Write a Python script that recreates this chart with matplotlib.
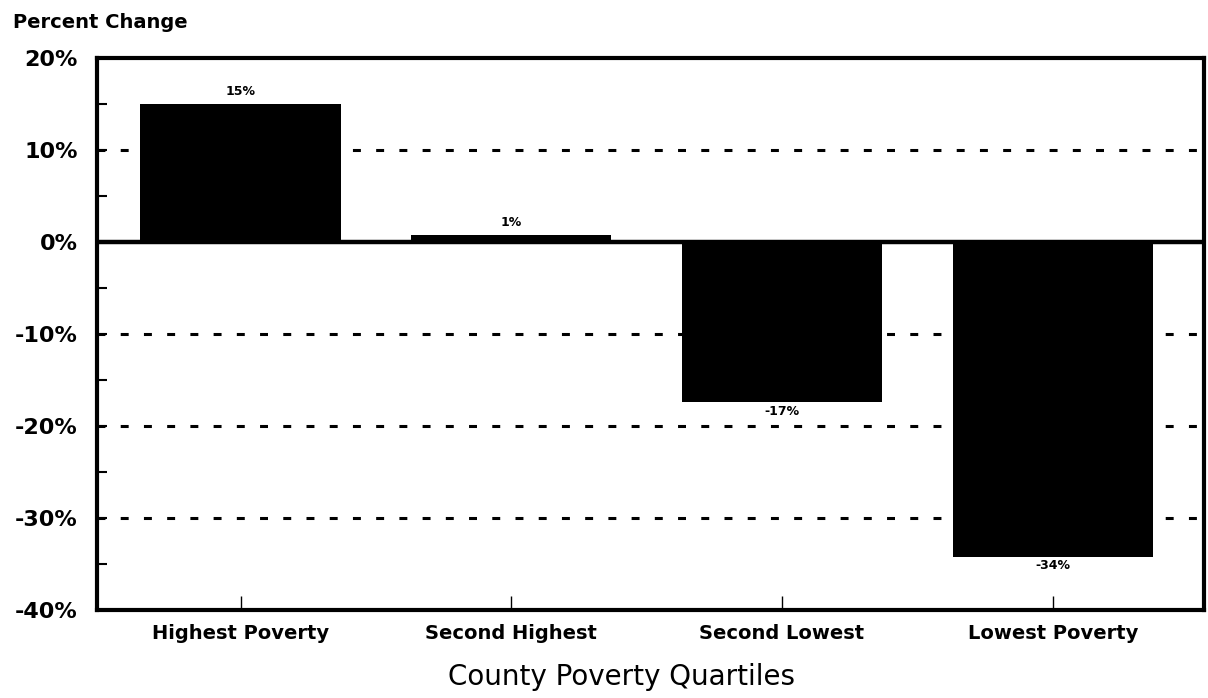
import matplotlib.pyplot as plt
from matplotlib.ticker import MultipleLocator, FuncFormatter

# county poverty quartiles and percent change
quartiles = ["Highest Poverty", "Second Highest", "Second Lowest", "Lowest Poverty"]
pct_change = [15, 0.8, -17.4, -34.2]
bar_labels = ["15%", "1%", "-17%", "-34%"]
grid_levels = [10, -10, -20, -30]

fig = plt.figure(figsize=(12.08, 6.98), dpi=100)
ax = fig.add_axes([0.0803, 0.126, 0.9167, 0.791])

x = range(len(quartiles))
ax.bar(x, pct_change, width=0.74, color="black", zorder=3)

# dashed reference lines behind the bars
for g in grid_levels:
    ax.axhline(g, color="black", lw=2.2, ls=(0, (2.6, 5)), zorder=1)
ax.axhline(0, color="black", lw=3.2, zorder=4)

# value labels above / below each bar
for i, v in enumerate(pct_change):
    if v >= 0:
        ax.text(i, v + 0.6, bar_labels[i], ha="center", va="bottom", fontsize=9, fontweight="bold")
    else:
        ax.text(i, v - 0.3, bar_labels[i], ha="center", va="top", fontsize=9, fontweight="bold")

ax.set_xlim(-0.53, 3.56)
ax.set_ylim(-40, 20)
ax.yaxis.set_major_locator(MultipleLocator(10))
ax.yaxis.set_minor_locator(MultipleLocator(5))
ax.yaxis.set_major_formatter(FuncFormatter(lambda v, p: "%d%%" % v))
ax.set_xticks(list(x))
ax.set_xticklabels(quartiles, fontsize=14, fontweight="bold")
ax.tick_params(axis="y", which="both", direction="in", length=7, width=1.5, labelsize=16, pad=14)
ax.tick_params(axis="x", direction="in", length=10, width=1, pad=10)
for lbl in ax.get_yticklabels():
    lbl.set_fontweight("bold")

for s in ax.spines.values():
    s.set_linewidth(3)

fig.text(621 / 1208, 1 - 677 / 698, "County Poverty Quartiles", fontsize=20, ha="center", va="center")
fig.text(0.011, 0.968, "Percent Change", fontsize=14, fontweight="bold", ha="left", va="center")

fig.savefig("out.png", dpi=100)
